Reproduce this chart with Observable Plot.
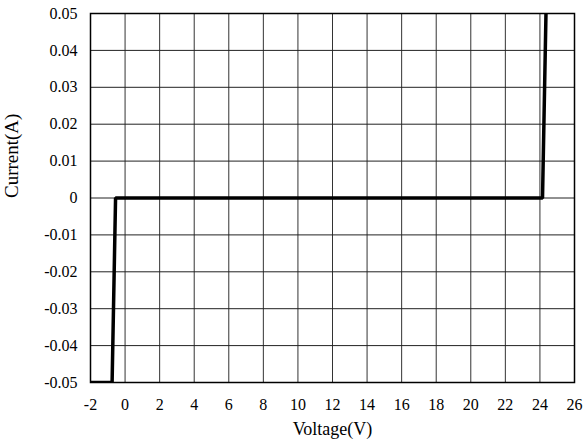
<!DOCTYPE html>
<html><head><meta charset="utf-8">
<script src="https://cdn.jsdelivr.net/npm/d3@7"></script>
<script src="https://cdn.jsdelivr.net/npm/@observablehq/plot@0.6"></script>
<style>body{margin:0;background:#fff;} svg, svg text{font-family:"Liberation Serif","Times New Roman",serif !important;}</style>
</head><body><div id="chart"></div>
<script>
const voltage = [-2, -0.75, -0.55, 24.15, 24.35];
const current = [-0.05, -0.05, 0, 0, 0.05];
const xTicks = [-2,0,2,4,6,8,10,12,14,16,18,20,22,24,26];
const yTicks = [-0.05,-0.04,-0.03,-0.02,-0.01,0,0.01,0.02,0.03,0.04,0.05];
const data = voltage.map((v,i)=>({v, c: current[i]}));
const fmt = d => String(+d.toFixed(2));
const serif = '"Liberation Serif","Times New Roman",serif';
const chart = Plot.plot({
  width: 584, height: 448,
  marginLeft: 90, marginRight: 10, marginTop: 13, marginBottom: 66,
  style: {fontFamily: serif, fontSize: "16px", color: "#000", background: "#fff"},
  x: {domain: [-2, 26]},
  y: {domain: [-0.05, 0.05]},
  marks: [
    Plot.ruleX(xTicks, {stroke: "#333", strokeWidth: 1}),
    Plot.ruleY(yTicks, {stroke: "#222", strokeWidth: 1}),
    Plot.frame({stroke: "#000", strokeWidth: 1.5}),
    Plot.axisX(xTicks, {tickSize: 0, tickPadding: 16, tickFormat: fmt, fontSize: 16, fontFamily: serif, fill: "#000", label: null}),
    Plot.axisY(yTicks, {tickSize: 0, tickPadding: 13, tickFormat: fmt, fontSize: 16, fontFamily: serif, fill: "#000", label: null}),
    Plot.line(data, {x: "v", y: "c", stroke: "#000", strokeWidth: 3.5, strokeLinejoin: "miter", clip: true}),
    Plot.text(["Current(A)"], {frameAnchor: "left", dx: -79, rotate: -90, fontSize: 19, fontFamily: serif, fill: "#000"}),
    Plot.text(["Voltage(V)"], {frameAnchor: "bottom", dy: 52, fontSize: 18, fontFamily: serif, fill: "#000"})
  ]
});
document.getElementById("chart").appendChild(chart);
</script></body></html>
